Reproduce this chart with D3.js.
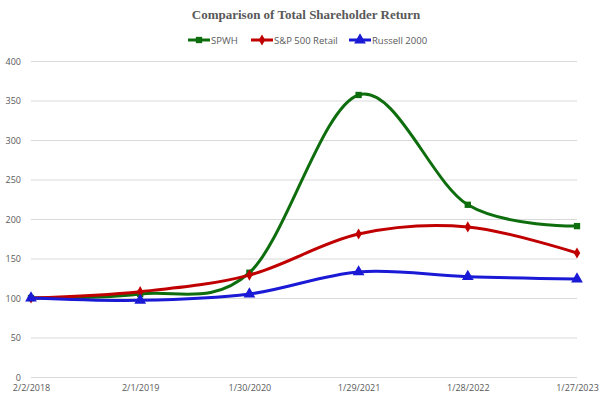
<!DOCTYPE html>
<html>
<head>
<meta charset="utf-8">
<script src="https://cdn.jsdelivr.net/npm/d3@7"></script>
<style>
  body { margin: 0; background: #fff; }
  svg { display: block; }
</style>
</head>
<body>
<div id="chart"></div>
<script>
// Data
const dates = ["2/2/2018", "2/1/2019", "1/30/2020", "1/29/2021", "1/28/2022", "1/27/2023"];
const spwh = [100, 105, 132, 357, 218, 191];
const spRetail = [100, 108, 129, 181, 190, 157];
const russell = [100, 97, 105, 133, 127, 124];
const yTicks = [0, 50, 100, 150, 200, 250, 300, 350, 400];

const seriesList = [
  { name: "SPWH", values: spwh, color: "#0e6e0e", marker: "square" },
  { name: "S&P 500 Retail", values: spRetail, color: "#c00000", marker: "diamond" },
  { name: "Russell 2000", values: russell, color: "#1a1ad6", marker: "triangle" }
];

const width = 611, height = 403;
const margin = { top: 61, right: 34, bottom: 26, left: 31 };

const svg = d3.select("#chart").append("svg")
  .attr("width", width)
  .attr("height", height);

// Title
svg.append("text")
  .attr("x", 306)
  .attr("y", 19)
  .attr("text-anchor", "middle")
  .attr("font-family", "'Liberation Serif', 'DejaVu Serif', serif")
  .attr("font-weight", "bold")
  .attr("font-size", "13px")
  .attr("fill", "#595959")
  .text("Comparison of Total Shareholder Return");

// Scales
const x = d3.scalePoint()
  .domain(dates)
  .range([margin.left, width - margin.right]);

const y = d3.scaleLinear()
  .domain([0, 400])
  .range([height - margin.bottom, margin.top]);

// Gridlines
svg.append("g")
  .selectAll("line")
  .data(yTicks)
  .join("line")
  .attr("x1", margin.left)
  .attr("x2", width - margin.right)
  .attr("y1", d => y(d) + 0.5)
  .attr("y2", d => y(d) + 0.5)
  .attr("stroke", "#d9d9d9")
  .attr("stroke-width", 1);

// Y axis labels
const yAxis = svg.append("g")
  .attr("transform", `translate(${margin.left - 10},0.5)`)
  .call(d3.axisLeft(y).tickValues(yTicks).tickSize(0).tickPadding(0));
yAxis.select(".domain").remove();
yAxis.selectAll("text")
  .attr("font-family", "'Open Sans', 'Liberation Sans', sans-serif")
  .attr("font-size", "9px")
  .attr("fill", "#595959");

// X axis labels
const xAxis = svg.append("g")
  .attr("transform", `translate(0,${height - margin.bottom + 8})`)
  .call(d3.axisBottom(x).tickSize(0).tickPadding(0));
xAxis.select(".domain").remove();
xAxis.selectAll("text")
  .attr("font-family", "'Open Sans', 'Liberation Sans', sans-serif")
  .attr("font-size", "9px")
  .attr("fill", "#595959");

// Marker shapes
const symbolFor = {
  square: d3.symbol().type(d3.symbolSquare).size(40),
  diamond: d3.symbol().type(d3.symbolDiamond).size(36),
  triangle: d3.symbol().type(d3.symbolTriangle).size(60)
};

const line = d3.line()
  .x((d, i) => x(dates[i]))
  .y(d => y(d))
  .curve(d3.curveCatmullRom.alpha(0));

// Lines and markers
seriesList.forEach(s => {
  svg.append("path")
    .datum(s.values)
    .attr("fill", "none")
    .attr("stroke", s.color)
    .attr("stroke-width", 3)
    .attr("stroke-linejoin", "round")
    .attr("d", line);

  svg.append("g")
    .selectAll("path")
    .data(s.values)
    .join("path")
    .attr("transform", (d, i) => `translate(${x(dates[i])},${y(d)})`)
    .attr("d", symbolFor[s.marker])
    .attr("fill", s.color);
});

// Legend
const legendItems = [
  { x: 188, label: "SPWH" },
  { x: 251, label: "S&P 500 Retail" },
  { x: 349, label: "Russell 2000" }
];

const legend = svg.append("g").attr("transform", "translate(0,40)");
seriesList.forEach((s, i) => {
  const lx = legendItems[i].x;
  legend.append("line")
    .attr("x1", lx)
    .attr("x2", lx + 22)
    .attr("y1", 0)
    .attr("y2", 0)
    .attr("stroke", s.color)
    .attr("stroke-width", 3);
  legend.append("path")
    .attr("transform", `translate(${lx + 11},0)`)
    .attr("d", symbolFor[s.marker])
    .attr("fill", s.color);
  legend.append("text")
    .attr("x", lx + 23)
    .attr("y", 3.5)
    .attr("font-family", "'Open Sans', 'Liberation Sans', sans-serif")
    .attr("font-size", "9.5px")
    .attr("fill", "#595959")
    .text(legendItems[i].label);
});
</script>
</body>
</html>
